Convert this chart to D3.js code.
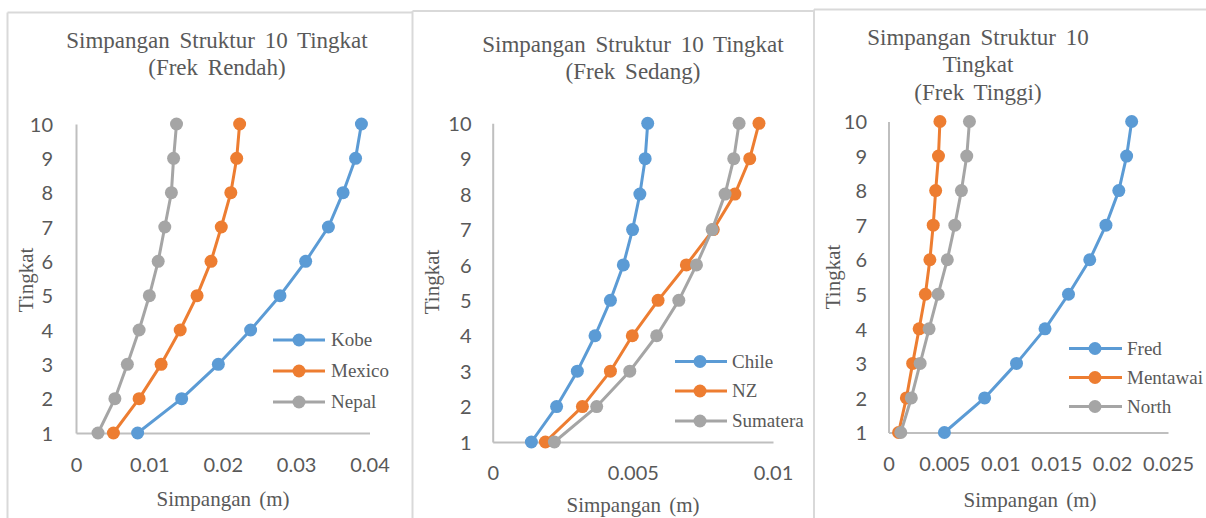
<!DOCTYPE html>
<html>
<head>
<meta charset="utf-8">
<script src="https://cdn.jsdelivr.net/npm/d3@7"></script>
<style>
  html, body { margin: 0; padding: 0; background: #fff; }
  svg { display: block; }
</style>
</head>
<body>
<svg id="chart" width="1206" height="518"></svg>
<script>
// Storey levels (y axis)
const tingkat = [1, 2, 3, 4, 5, 6, 7, 8, 9, 10];

// Low-frequency records (m)
const kobe   = [0.0084, 0.0144, 0.0194, 0.0238, 0.0278, 0.0313, 0.0344, 0.0364, 0.0381, 0.0389];
const mexico = [0.0051, 0.0086, 0.0116, 0.0142, 0.0165, 0.0184, 0.0198, 0.0211, 0.0219, 0.0223];
const nepal  = [0.0030, 0.0053, 0.0070, 0.0086, 0.0100, 0.0112, 0.0121, 0.0130, 0.0133, 0.0137];

// Medium-frequency records (m)
const chile    = [0.00138, 0.00228, 0.00302, 0.00365, 0.00420, 0.00466, 0.00499, 0.00525, 0.00544, 0.00553];
const nz       = [0.00188, 0.00320, 0.00420, 0.00498, 0.00590, 0.00691, 0.00787, 0.00864, 0.00917, 0.00950];
const sumatera = [0.00220, 0.00371, 0.00489, 0.00585, 0.00664, 0.00727, 0.00783, 0.00829, 0.00860, 0.00879];

// High-frequency records (m)
const fred     = [0.00500, 0.00860, 0.01145, 0.01400, 0.01610, 0.01800, 0.01945, 0.02060, 0.02130, 0.02175];
const mentawai = [0.00090, 0.00160, 0.00216, 0.00274, 0.00330, 0.00370, 0.00400, 0.00422, 0.00447, 0.00460];
const north    = [0.00110, 0.00204, 0.00283, 0.00363, 0.00444, 0.00526, 0.00593, 0.00652, 0.00700, 0.00724];

// Axis tick labels
const ticksRendah = [0, 0.01, 0.02, 0.03, 0.04];
const ticksSedang = [0, 0.005, 0.01];
const ticksTinggi = [0, 0.005, 0.01, 0.015, 0.02, 0.025];

const seriesColors = ["#5B9BD5", "#ED7D31", "#A5A5A5"];

const panels = [
  {
    frame: { x: 7.5, y: 12.5, w: 405 },
    title: ["Simpangan Struktur 10 Tingkat", "(Frek Rendah)"],
    titleX: 217, titleY: 48, lineGap: 27,
    x0: 76, x1: 369.5, yBottom: 433, yTop: 124,
    xMax: 0.04, xTicks: ticksRendah, xTickY: 472, yTickRight: 53,
    xTitleX: 223, xTitleY: 506, yTitleX: 33, yTitleY: 280,
    names: ["Kobe", "Mexico", "Nepal"], data: [kobe, mexico, nepal],
    leg: { x0: 273, x1: 325, mx: 299, tx: 331, ys: [340, 371, 402] }
  },
  {
    frame: { x: 412.5, y: 11, w: 401 },
    title: ["Simpangan Struktur 10 Tingkat", "(Frek Sedang)"],
    titleX: 633, titleY: 52, lineGap: 27,
    x0: 492.7, x1: 773, yBottom: 442, yTop: 123.3,
    xMax: 0.01, xTicks: ticksSedang, xTickY: 480, yTickRight: 471.5,
    xTitleX: 633, xTitleY: 512, yTitleX: 439, yTitleY: 282,
    names: ["Chile", "NZ", "Sumatera"], data: [chile, nz, sumatera],
    leg: { x0: 675, x1: 727, mx: 700, tx: 732, ys: [361.5, 391, 421] }
  },
  {
    frame: { x: 814, y: 9.5, w: 392 },
    title: ["Simpangan Struktur 10", "Tingkat", "(Frek Tinggi)"],
    titleX: 978, titleY: 45, lineGap: 27.3,
    x0: 888.5, x1: 1168, yBottom: 432.5, yTop: 121.5,
    xMax: 0.025, xTicks: ticksTinggi, xTickY: 471, yTickRight: 867,
    xTitleX: 1030, xTitleY: 507, yTitleX: 840, yTitleY: 277,
    names: ["Fred", "Mentawai", "North"], data: [fred, mentawai, north],
    leg: { x0: 1069, x1: 1122, mx: 1095, tx: 1127, ys: [348.5, 377.5, 406.5] }
  }
];

const svg = d3.select("#chart");
const serif = "'Liberation Serif', 'Times New Roman', serif";
const sans = "Lato, 'Open Sans', sans-serif";
const textColor = "#595959";

function drawPanel(p) {
  const g = svg.append("g");

  // chart area border (top and left edges)
  g.append("line")
    .attr("x1", p.frame.x).attr("x2", p.frame.x + p.frame.w)
    .attr("y1", p.frame.y).attr("y2", p.frame.y)
    .attr("stroke", "#D9D9D9").attr("stroke-width", 2);
  g.append("line")
    .attr("x1", p.frame.x).attr("x2", p.frame.x)
    .attr("y1", p.frame.y).attr("y2", 520)
    .attr("stroke", "#D9D9D9").attr("stroke-width", 2);

  const x = d3.scaleLinear().domain([0, p.xMax]).range([p.x0, p.x1]);
  const y = d3.scaleLinear().domain([1, 10]).range([p.yBottom, p.yTop]);

  // title
  const t = g.append("text")
    .attr("x", p.titleX).attr("y", p.titleY)
    .attr("text-anchor", "middle")
    .attr("font-family", serif).attr("font-size", 23)
    .attr("word-spacing", 4)
    .attr("fill", textColor);
  p.title.forEach((line, i) => {
    t.append("tspan").attr("x", p.titleX).attr("y", p.titleY + i * p.lineGap).text(line);
  });

  // axes
  const xAxis = d3.axisBottom(x).tickValues(p.xTicks).tickSize(0).tickFormat(d => String(d));
  const yAxis = d3.axisLeft(y).tickValues(tingkat).tickSize(0).tickFormat(d => String(d));

  const gx = g.append("g").attr("transform", `translate(0,${p.yBottom})`).call(xAxis);
  gx.select(".domain").attr("stroke", "#BFBFBF").attr("stroke-width", 2);
  gx.selectAll(".tick text")
    .attr("y", p.xTickY - p.yBottom).attr("dy", 0)
    .attr("font-family", sans).attr("font-size", 20).attr("fill", textColor);

  const gy = g.append("g").attr("transform", `translate(${p.x0},0)`).call(yAxis);
  gy.select(".domain").attr("stroke", "#BFBFBF").attr("stroke-width", 2);
  gy.selectAll(".tick text")
    .attr("x", p.yTickRight - p.x0).attr("dy", "0.36em")
    .attr("font-family", sans).attr("font-size", 20).attr("fill", textColor);

  // axis titles
  g.append("text")
    .attr("x", p.xTitleX).attr("y", p.xTitleY)
    .attr("text-anchor", "middle")
    .attr("font-family", serif).attr("font-size", 21).attr("word-spacing", 3)
    .attr("fill", textColor).text("Simpangan (m)");
  g.append("text")
    .attr("transform", `translate(${p.yTitleX},${p.yTitleY}) rotate(-90)`)
    .attr("text-anchor", "middle")
    .attr("font-family", serif).attr("font-size", 21)
    .attr("fill", textColor).text("Tingkat");

  // series lines and markers
  const line = d3.line().x(d => x(d.v)).y(d => y(d.lv));
  p.data.forEach((vals, si) => {
    const pts = vals.map((v, i) => ({ v, lv: tingkat[i] }));
    g.append("path").datum(pts)
      .attr("d", line).attr("fill", "none")
      .attr("stroke", seriesColors[si]).attr("stroke-width", 3)
      .attr("stroke-linejoin", "round");
    g.selectAll(null).data(pts).enter().append("circle")
      .attr("cx", d => x(d.v)).attr("cy", d => y(d.lv)).attr("r", 6.5)
      .attr("fill", seriesColors[si]);
  });

  // legend
  p.names.forEach((name, i) => {
    const ly = p.leg.ys[i];
    g.append("line")
      .attr("x1", p.leg.x0).attr("x2", p.leg.x1).attr("y1", ly).attr("y2", ly)
      .attr("stroke", seriesColors[i]).attr("stroke-width", 3);
    g.append("circle").attr("cx", p.leg.mx).attr("cy", ly).attr("r", 6.5)
      .attr("fill", seriesColors[i]);
    g.append("text")
      .attr("x", p.leg.tx).attr("y", ly).attr("dy", "0.33em")
      .attr("font-family", serif).attr("font-size", 19)
      .attr("fill", textColor).text(name);
  });
}

panels.forEach(drawPanel);
</script>
</body>
</html>
